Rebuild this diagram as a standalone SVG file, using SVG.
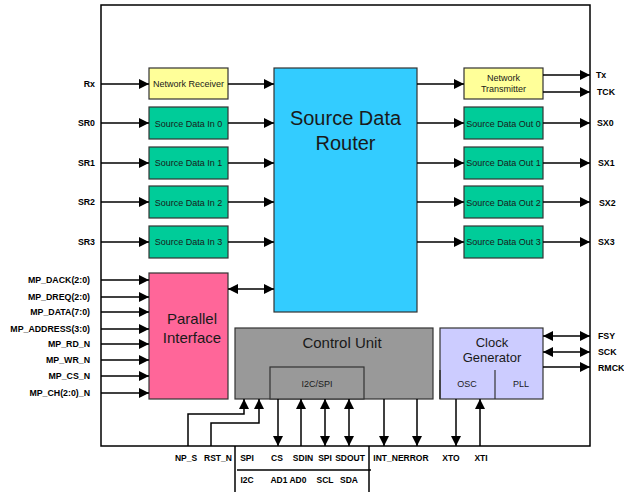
<svg xmlns="http://www.w3.org/2000/svg" width="624" height="492" viewBox="0 0 624 492">
<defs>
<marker id="ah" viewBox="0 0 10 10" refX="10" refY="5" markerWidth="10" markerHeight="10" markerUnits="userSpaceOnUse" orient="auto-start-reverse"><path d="M0,0 L10,5 L0,10 z" fill="#000"/></marker>
<style>
.box{stroke:#333;stroke-width:1.2}
.y{fill:#FFFF99}.g{fill:#00CC99}.b{fill:#33CCFF}.p{fill:#FF6699}.gr{fill:#999999}.l{fill:#CCCCFF}
.c{fill:none;stroke:#000;stroke-width:1.5}
.a{marker-end:url(#ah)}
.d{marker-start:url(#ah);marker-end:url(#ah)}
.lbl{font-family:"Liberation Sans",Arial,sans-serif;font-size:8.8px;font-weight:bold;fill:#000}
.t9{font-family:"Liberation Sans",Arial,sans-serif;font-size:9px;fill:#1a1a1a;text-anchor:middle}
.big{font-family:"Liberation Sans",Arial,sans-serif;fill:#1a1a1a;text-anchor:middle}
</style>
</defs>
<rect x="101" y="5" width="489" height="441" fill="#fff" stroke="#000" stroke-width="1.5"/>

<g id="net-receiver"><rect class="box y" x="149" y="68" width="79" height="31"/><text class="t9" x="188.5" y="87">Network Receiver</text></g>
<g id="sdi0"><rect class="box g" x="149" y="107" width="79" height="32"/><text class="t9" x="188.5" y="126.5">Source Data In 0</text></g>
<g id="sdi1"><rect class="box g" x="149" y="147" width="79" height="32"/><text class="t9" x="188.5" y="166">Source Data In 1</text></g>
<g id="sdi2"><rect class="box g" x="149" y="186" width="79" height="32"/><text class="t9" x="188.5" y="205.5">Source Data In 2</text></g>
<g id="sdi3"><rect class="box g" x="149" y="226" width="79" height="32"/><text class="t9" x="188.5" y="245">Source Data In 3</text></g>

<g id="router"><rect class="box b" x="274" y="68" width="143" height="244"/><text class="big" font-size="20" x="345.5" y="125">Source Data</text><text class="big" font-size="20" x="345.5" y="150">Router</text></g>

<g id="net-transmitter"><rect class="box y" x="464" y="68" width="79" height="31"/><text class="t9" font-size="8.5" x="503.5" y="81">Network</text><text class="t9" font-size="8.5" x="503.5" y="92">Transmitter</text></g>
<g id="sdo0"><rect class="box g" x="464" y="107" width="79" height="32"/><text class="t9" x="503.5" y="126.5">Source Data Out 0</text></g>
<g id="sdo1"><rect class="box g" x="464" y="147" width="79" height="32"/><text class="t9" x="503.5" y="166">Source Data Out 1</text></g>
<g id="sdo2"><rect class="box g" x="464" y="186" width="79" height="32"/><text class="t9" x="503.5" y="205.5">Source Data Out 2</text></g>
<g id="sdo3"><rect class="box g" x="464" y="226" width="79" height="32"/><text class="t9" x="503.5" y="245">Source Data Out 3</text></g>

<g id="parallel"><rect class="box p" x="149" y="273" width="79" height="126"/><text class="big" font-size="15" x="192" y="324">Parallel</text><text class="big" font-size="15" x="192" y="343">Interface</text></g>

<g id="control"><rect class="box gr" x="235" y="328" width="198" height="71"/><text class="big" font-size="15" x="342" y="348">Control Unit</text>
<rect class="box gr" x="270" y="367" width="94" height="32"/><text class="t9" font-size="8.5" x="317" y="387">I2C/SPI</text></g>

<g id="clock"><rect class="box l" x="440" y="328" width="103" height="71"/><text class="big" font-size="13" x="492" y="347">Clock</text><text class="big" font-size="13" x="492" y="362">Generator</text>
<line x1="495" y1="370" x2="495" y2="399" stroke="#333" stroke-width="1.2"/><line x1="440" y1="370" x2="440" y2="399" stroke="#333" stroke-width="1.5"/>
<text class="t9" font-size="8.5" x="467" y="387">OSC</text><text class="t9" font-size="8.5" x="521" y="387">PLL</text></g>

<g id="connectors">
<path class="c a" d="M101 84H149"/><path class="c a" d="M101 123H149"/><path class="c a" d="M101 163H149"/><path class="c a" d="M101 202H149"/><path class="c a" d="M101 242H149"/>
<path class="c a" d="M228 84H274"/><path class="c a" d="M228 123H274"/><path class="c a" d="M228 163H274"/><path class="c a" d="M228 202H274"/><path class="c a" d="M228 242H274"/>
<path class="c a" d="M417 84H464"/><path class="c a" d="M417 123H464"/><path class="c a" d="M417 163H464"/><path class="c a" d="M417 202H464"/><path class="c a" d="M417 242H464"/>
<path class="c a" d="M543 75H590"/><path class="c a" d="M543 92H590"/><path class="c a" d="M543 123H590"/><path class="c a" d="M543 163H590"/><path class="c a" d="M543 202H590"/><path class="c a" d="M543 242H590"/>
<path class="c a" d="M101 280H149"/><path class="c a" d="M101 297H149"/><path class="c a" d="M101 312H149"/><path class="c a" d="M101 329H149"/><path class="c a" d="M101 344H149"/><path class="c a" d="M101 360H149"/><path class="c a" d="M101 376H149"/><path class="c a" d="M101 393H149"/>
<path class="c d" d="M228 289H274"/>
<path class="c d" d="M543 336H590"/>
<path class="c d" d="M543 352H590"/>
<path class="c a" d="M543 367H590"/>
<path class="c a" d="M188 446V414H244V399"/>
<path class="c a" d="M211 446V423H259V399"/>
<path class="c a" d="M278 399V446"/>
<path class="c a" d="M301 446V399"/>
<path class="c d" d="M325 399V446"/>
<path class="c d" d="M349 399V446"/>
<path class="c a" d="M384 399V446"/>
<path class="c a" d="M417 399V446"/>
<path class="c a" d="M456 399V446"/>
<path class="c a" d="M480 446V399"/>
<path class="c" d="M235 446V492"/><path class="c" d="M369 446V492"/><path class="c" d="M237 470H371"/>
</g>

<g id="labels-left" class="lbl" text-anchor="end">
<text x="95" y="87">Rx</text><text x="95" y="126">SR0</text><text x="95" y="166">SR1</text><text x="95" y="205">SR2</text><text x="95" y="245">SR3</text>
<text x="90" y="283">MP_DACK(2:0)</text><text x="90" y="300">MP_DREQ(2:0)</text><text x="90" y="315">MP_DATA(7:0)</text><text x="90" y="332">MP_ADDRESS(3:0)</text><text x="90" y="347">MP_RD_N</text><text x="90" y="363">MP_WR_N</text><text x="90" y="379">MP_CS_N</text><text x="90" y="396">MP_CH(2:0)_N</text>
</g>
<g id="labels-right" class="lbl">
<text x="596" y="78">Tx</text><text x="597" y="95">TCK</text><text x="597" y="126">SX0</text><text x="598" y="166">SX1</text><text x="599" y="206">SX2</text><text x="598" y="245">SX3</text>
<text x="598" y="339">FSY</text><text x="598" y="355">SCK</text><text x="598" y="371">RMCK</text>
</g>
<g id="labels-bottom" class="lbl" text-anchor="middle" font-size="8.5">
<text x="186" y="461" style="font-size:8.5px">NP_S</text><text x="218" y="461" style="font-size:8.5px">RST_N</text><text x="247" y="461" style="font-size:8.5px">SPI</text><text x="277" y="461" style="font-size:8.5px">CS</text><text x="303" y="461" style="font-size:8.5px">SDIN</text><text x="325" y="461" style="font-size:8.5px">SPI</text><text x="350" y="461" style="font-size:8.5px">SDOUT</text><text x="401" y="461" style="font-size:8.5px">INT_NERROR</text><text x="451" y="461" style="font-size:8.5px">XTO</text><text x="481" y="461" style="font-size:8.5px">XTI</text>
<text x="247" y="483" style="font-size:8.5px">I2C</text><text x="279" y="483" style="font-size:8.5px">AD1</text><text x="298" y="483" style="font-size:8.5px">AD0</text><text x="325" y="483" style="font-size:8.5px">SCL</text><text x="349" y="483" style="font-size:8.5px">SDA</text>
</g>
</svg>
